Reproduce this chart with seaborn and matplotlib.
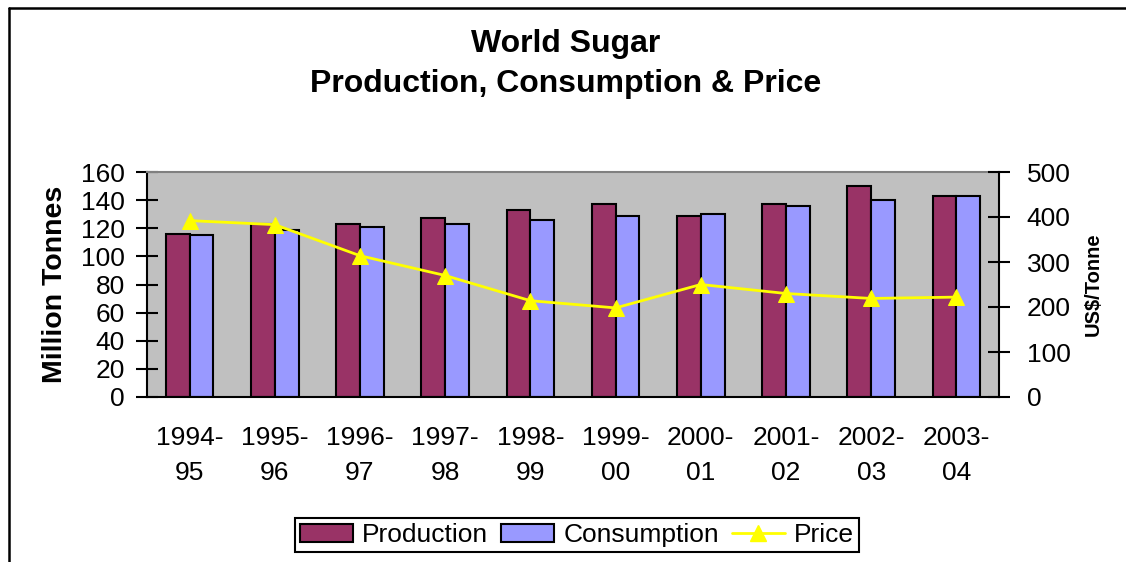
import numpy as np
import pandas as pd
import matplotlib
matplotlib.use("Agg")
import matplotlib.pyplot as plt
import seaborn as sns
from matplotlib.lines import Line2D
from matplotlib.patches import Patch

# ---- data ----
SEASONS = ["1994-\n95", "1995-\n96", "1996-\n97", "1997-\n98", "1998-\n99",
           "1999-\n00", "2000-\n01", "2001-\n02", "2002-\n03", "2003-\n04"]
PRODUCTION = [116, 123, 123, 127, 133, 137, 129, 137, 150, 143]
CONSUMPTION = [115, 119, 121, 123, 126, 129, 130, 136, 140, 143]
PRICE = [392, 383, 314, 270, 214, 198, 250, 230, 219, 222]

PROD_COLOR = "#993366"
CONS_COLOR = "#9999FF"
PRICE_COLOR = "#FFFF00"

sns.set_style("white")
plt.rcParams["font.family"] = ["Liberation Sans", "DejaVu Sans"]
plt.rcParams["text.color"] = "black"
plt.rcParams["axes.labelcolor"] = "black"
plt.rcParams["xtick.color"] = "black"
plt.rcParams["ytick.color"] = "black"

df = pd.DataFrame({
    "season": SEASONS * 2,
    "value": PRODUCTION + CONSUMPTION,
    "series": ["Production"] * len(SEASONS) + ["Consumption"] * len(SEASONS),
})

W, H = 1126, 562
fig = plt.figure(figsize=(W / 100, H / 100), dpi=100)
ax = fig.add_axes([147 / W, 1 - 397 / H, (999 - 147) / W, (397 - 172) / H])
ax.set_facecolor("#C0C0C0")

sns.barplot(data=df, x="season", y="value", hue="series",
            palette=[PROD_COLOR, CONS_COLOR], width=0.56, gap=0,
            edgecolor="black", linewidth=1.5, saturation=1, ax=ax)
ax.get_legend().remove()

ax.set_ylim(0, 160)
ax.set_xlim(-0.5, len(SEASONS) - 0.5)
ax.set_yticks(range(0, 161, 20))
ax.set_xlabel("")
ax.set_ylabel("Million Tonnes", fontsize=20.5, fontweight="bold", labelpad=9)

# category boundaries get the tick marks, labels sit in between
ax.set_xticks(np.arange(-0.5, len(SEASONS), 1.0))
ax.set_xticklabels([""] * (len(SEASONS) + 1))
ax.set_xticks(np.arange(len(SEASONS)), minor=True)
ax.set_xticklabels(SEASONS, minor=True)
ax.tick_params(axis="x", which="major", direction="inout", length=15, width=1.5)
ax.tick_params(axis="x", which="minor", length=0, labelsize=19, pad=21)
ax.tick_params(axis="y", direction="inout", length=16, width=1.5,
               labelsize=19, pad=8)
for lbl in ax.get_xticklabels(minor=True):
    lbl.set_linespacing(1.55)

for side in ["left", "bottom"]:
    ax.spines[side].set_color("black")
    ax.spines[side].set_linewidth(1.5)
ax.spines["top"].set_color("#808080")
ax.spines["top"].set_linewidth(1.5)
ax.spines["right"].set_visible(False)

# price on the secondary axis
ax2 = ax.twinx()
sns.lineplot(x=np.arange(len(PRICE)), y=PRICE, ax=ax2, color=PRICE_COLOR,
             linewidth=2, marker="^", markersize=11, markeredgecolor=PRICE_COLOR)
ax2.set_ylim(0, 500)
ax2.set_yticks(range(0, 501, 100))
ax2.set_ylabel("US$/Tonne", fontsize=14.5, fontweight="bold", labelpad=9)
ax2.tick_params(axis="y", direction="inout", length=16, width=1.5,
                labelsize=19, pad=12)
ax2.spines["right"].set_color("black")
ax2.spines["right"].set_linewidth(1.5)
for side in ["left", "top", "bottom"]:
    ax2.spines[side].set_visible(False)

# title
fig.text(566 / W, 1 - 52 / H, "World Sugar", ha="center", va="baseline",
         fontsize=23, fontweight="bold")
fig.text(566 / W, 1 - 92 / H, "Production, Consumption & Price", ha="center",
         va="baseline", fontsize=23, fontweight="bold")

# legend
handles = [
    Patch(facecolor=PROD_COLOR, edgecolor="black", linewidth=1.5),
    Patch(facecolor=CONS_COLOR, edgecolor="black", linewidth=1.5),
    Line2D([], [], color=PRICE_COLOR, linewidth=2, marker="^", markersize=11),
]
leg = fig.legend(handles, ["Production", "Consumption", "Price"], ncol=3,
                 loc="center", bbox_to_anchor=(577 / W, 1 - 535 / H),
                 fontsize=19, frameon=True, fancybox=False, framealpha=1,
                 handlelength=2.0, handleheight=0.7, handletextpad=0.35,
                 columnspacing=0.5, borderpad=0.2, borderaxespad=0)
leg.get_frame().set_edgecolor("black")
leg.get_frame().set_linewidth(1.5)

# outer frame: only left and top edges visible
fig.add_artist(Line2D([8.5 / W, 8.5 / W], [0, 1 - 8 / H], color="black", linewidth=1.8))
fig.add_artist(Line2D([8.5 / W, 1], [1 - 8 / H, 1 - 8 / H], color="black", linewidth=1.8))

fig.savefig("out.png", dpi=100)
